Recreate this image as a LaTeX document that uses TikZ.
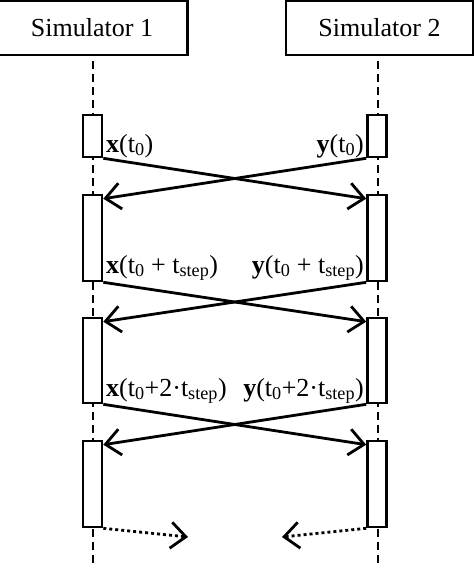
\documentclass[tikz,border=0pt]{standalone}
\usepackage{fontspec}
\setmainfont{Liberation Serif}
\usetikzlibrary{calc,positioning,arrows.meta}

\begin{document}
\begin{tikzpicture}[x=1pt, y=-1pt,
  simbox/.style={draw, line width=2.2pt, minimum width=#1, minimum height=54pt, inner sep=0pt, font=\fontsize{26}{30}\selectfont},
  act/.style={draw, fill=white, line width=2.6pt, minimum width=19pt, minimum height=#1, inner sep=0pt},
  lifeline/.style={line width=2pt, dash pattern=on 8pt off 5pt, dash phase=8pt},
  msg/.style={-{Straight Barb[length=15pt, width=26pt, line width=2.8pt]}, line width=2.8pt},
  later/.style={msg, dash pattern=on 3pt off 3pt},
  lbl/.style={inner sep=0pt, font=\fontsize{26}{30}\selectfont}
]
  \useasboundingbox (0,0) rectangle (474,565);

  \node[simbox=191pt] (sim1) at (92,28) {Simulator 1};
  \node[simbox=187pt] (sim2) at (379.5,28) {Simulator 2};
  \coordinate (end1) at (93,565);
  \coordinate (end2) at (378,565);
  \draw[lifeline] (sim1.south -| end1) -- (end1);
  \draw[lifeline] (sim2.south -| end2) -- (end2);

  \node[act=42pt] (a1) at (92.5,136) {};
  \node[act=86pt] (a2) at (92.5,238) {};
  \node[act=85pt] (a3) at (92.5,360.5) {};
  \node[act=86pt] (a4) at (92.5,484) {};
  \node[act=42pt] (b1) at (377,136) {};
  \node[act=86pt] (b2) at (377,238) {};
  \node[act=85pt] (b3) at (377,360.5) {};
  \node[act=86pt] (b4) at (377,484) {};

  \node[lbl, anchor=base west] (x1) at (106,152) {\textbf{x}(t\textsubscript{0})};
  \node[lbl, anchor=base east] (y1) at (364,152) {\textbf{y}(t\textsubscript{0})};
  \node[lbl, anchor=base west] (x2) at (106,273) {\textbf{x}(t\textsubscript{0} + t\textsubscript{step})};
  \node[lbl, anchor=base east] (y2) at (364,273) {\textbf{y}(t\textsubscript{0} + t\textsubscript{step})};
  \node[lbl, anchor=base west] (x3) at (106,396) {\textbf{x}(t\textsubscript{0}+2·t\textsubscript{step})};
  \node[lbl, anchor=base east] (y3) at (364,396) {\textbf{y}(t\textsubscript{0}+2·t\textsubscript{step})};

  \draw[msg] (a1.south east) -- ($(b2.north west)+(0,5)$);
  \draw[msg] (b1.south west) -- ($(a2.north east)+(0,5)$);
  \draw[msg] (a2.south east) -- ($(b3.north west)+(0,5)$);
  \draw[msg] (b2.south west) -- ($(a3.north east)+(0,5)$);
  \draw[msg] (a3.south east) -- ($(b4.north west)+(0,5)$);
  \draw[msg] (b3.south west) -- ($(a4.north east)+(0,5)$);

  \coordinate (next1) at (188,537);
  \coordinate (next2) at (282,537);
  \draw[later] (a4.south east) -- (next1);
  \draw[later] (b4.south west) -- (next2);
\end{tikzpicture}
\end{document}
